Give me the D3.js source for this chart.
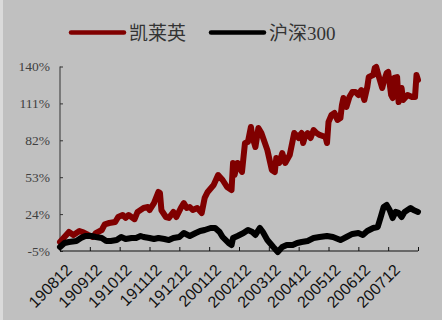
<!DOCTYPE html>
<html><head><meta charset="utf-8">
<script src="https://cdn.jsdelivr.net/npm/d3@7/dist/d3.min.js"></script>
<style>html,body{margin:0;padding:0;background:#c0c0c0;}svg{display:block;}</style>
</head><body>
<svg id="c" width="442" height="320"></svg>
<script>
// trading-day index (0..240) and cumulative return (%)
const seriesNames = ["凯莱英", "沪深300"];
const klyDay = [0,6,9,13,15,19,22,24,28,30,33,37,39,42,44,46,50,52,56,59,60,63,66,67,68,71,73,76,78,81,83,85,87,89,92,95,97,99,103,106,109,112,115,116,117,119,122,124,126,128,129,131,133,135,139,142,144,145,147,149,151,154,157,160,161,162,163,164,166,168,170,172,174,178,179,180,182,184,186,188,189,190,192,194,196,198,200,202,204,206,207,210,211,212,214,216,217,219,220,222,223,224,226,227,229,230,233,236,238,239,240];
const klyPct = [2,10,7.6,10.7,9.9,7.6,6,9,11.5,16,17,17.8,21.7,23.3,21,23.3,20,25.7,28.8,29.6,27.2,32.7,41.4,40.6,27,21.7,21,25.7,21.7,28.8,32.7,28.8,29.6,27.2,28.8,24.9,36.7,41.4,46.9,54.7,50.8,45.3,42.9,64.2,54.7,64.2,57.1,79.9,80.7,92.5,84.6,76.7,91.7,87.7,74.4,58.7,57.1,68.1,64.2,72,64.2,70.4,87.7,83.8,86.2,87.7,79.9,83.8,87.7,83.8,90.1,87.7,86.2,84.6,79.9,96.4,101.9,103.5,98,99.5,109.7,115.2,108.2,116,120,120,117.6,121.5,113.7,123.9,131.7,133.3,138.8,139.6,131,123.1,127.8,134.9,135.7,117.6,115.2,131,131.7,112.1,123.1,113.7,117.6,116,116,133.3,129.4];
const hsDay = [0,3,6,11,14,17,21,24,28,31,34,38,41,44,48,51,54,56,60,63,66,70,73,76,80,83,87,91,94,97,101,104,107,109,113,115,116,119,123,126,129,131,134,136,139,143,146,149,152,156,159,162,166,170,174,179,183,188,192,196,200,203,206,210,213,215,217,219,221,223,225,227,229,231,235,237,240];
const hsPct = [-1.9,1.3,2.1,2.9,5.2,6.8,6.8,6,5.2,2.9,2.9,3.6,6,4.4,5.2,5.2,6.8,6,5.2,4.4,5.2,4.4,3.6,5.2,6,9.1,6.8,9.1,10.7,11.5,13.1,13.1,9.9,6,1.3,-0.3,5.2,6.8,9.1,11.5,9.9,7.6,13.1,9.9,3.6,-1.9,-5.8,-1.9,-0.3,-0.3,1.3,2.1,2.9,5.2,6,6.8,6,3.6,6,8.4,9.1,7.6,10.7,13.1,13.9,21.7,29.6,31.2,27.2,20.9,25.7,24.9,21.7,25.7,28.8,27.2,25.7];
const yTicks = [-5, 24, 53, 82, 111, 140];
const xTickLabels = ["190812","190912","191012","191112","191212","200112","200212","200312","200412","200512","200612","200712"];
const daysPerTick = 20;

const svg = d3.select("#c");
svg.append("rect").attr("x",0).attr("y",0).attr("width",442).attr("height",320).attr("fill","#c0c0c0");
svg.append("rect").attr("x",0).attr("y",0).attr("width",3).attr("height",320).attr("fill","#dadada");

const x = d3.scaleLinear().domain([0, daysPerTick * 12]).range([60, 418]);
const y = d3.scaleLinear().domain([-5, 140]).range([251, 66.5]);

// axes
const yAxis = svg.append("g").attr("transform","translate(60,0)")
  .call(d3.axisRight(y).tickValues(yTicks).tickSize(3).tickFormat(""));
yAxis.select(".domain").attr("stroke","#333").attr("d", `M0,${y(140)}V${y(-5)}`);
yAxis.selectAll(".tick line").attr("stroke","#333");
svg.append("g").selectAll("text").data(yTicks).join("text")
  .attr("x", 50).attr("y", d => y(d)).attr("dy","0.35em")
  .attr("text-anchor","end").attr("font-family","'Liberation Serif', serif")
  .attr("font-size", 13.5).attr("fill","#404040").text(d => d + "%");

const xTickVals = d3.range(0, 13).map(i => i * daysPerTick);
const xAxis = svg.append("g").attr("transform","translate(0,251)")
  .call(d3.axisTop(x).tickValues(xTickVals).tickSize(4).tickFormat(""));
xAxis.select(".domain").attr("stroke","#111").attr("d", `M60,0H418`);
xAxis.selectAll(".tick line").attr("stroke","#111");
svg.append("g").selectAll("text").data(xTickLabels).join("text")
  .attr("transform", (d,i) => `translate(${x(i*daysPerTick)+5},${263}) rotate(-45)`)
  .attr("text-anchor","end").attr("dy","0.7em")
  .attr("font-family","'Liberation Sans', Arial, sans-serif")
  .attr("font-size", 16).attr("fill","#111").text(d => d);

// lines
const line = d3.line().x(d => x(d[0])).y(d => y(d[1])).curve(d3.curveLinear);
const klyData = klyDay.map((d,i) => [d, klyPct[i]]);
const hsData = hsDay.map((d,i) => [d, hsPct[i]]);
svg.append("path").datum(klyData).attr("d", line).attr("fill","none")
  .attr("stroke","#800000").attr("stroke-width",6).attr("stroke-linejoin","round").attr("stroke-linecap","round");
svg.append("path").datum(hsData).attr("d", line).attr("fill","none")
  .attr("stroke","#000").attr("stroke-width",6).attr("stroke-linejoin","round").attr("stroke-linecap","round");

// legend
const legend = [
  {name: seriesNames[0], color: "#800000", x0: 71},
  {name: seriesNames[1], color: "#000", x0: 211}
];
const lg = svg.append("g");
legend.forEach(l => {
  lg.append("line").attr("x1", l.x0).attr("x2", l.x0 + 53).attr("y1", 32.5).attr("y2", 32.5)
    .attr("stroke", l.color).attr("stroke-width", 4.5).attr("stroke-linecap","round");
  lg.append("text").attr("x", l.x0 + 58).attr("y", 33).attr("dy","0.35em")
    .attr("font-family","'Liberation Serif', 'Noto Sans CJK SC', serif")
    .attr("font-size", 19).attr("fill","#333").text(l.name);
});
</script>
</body></html>
